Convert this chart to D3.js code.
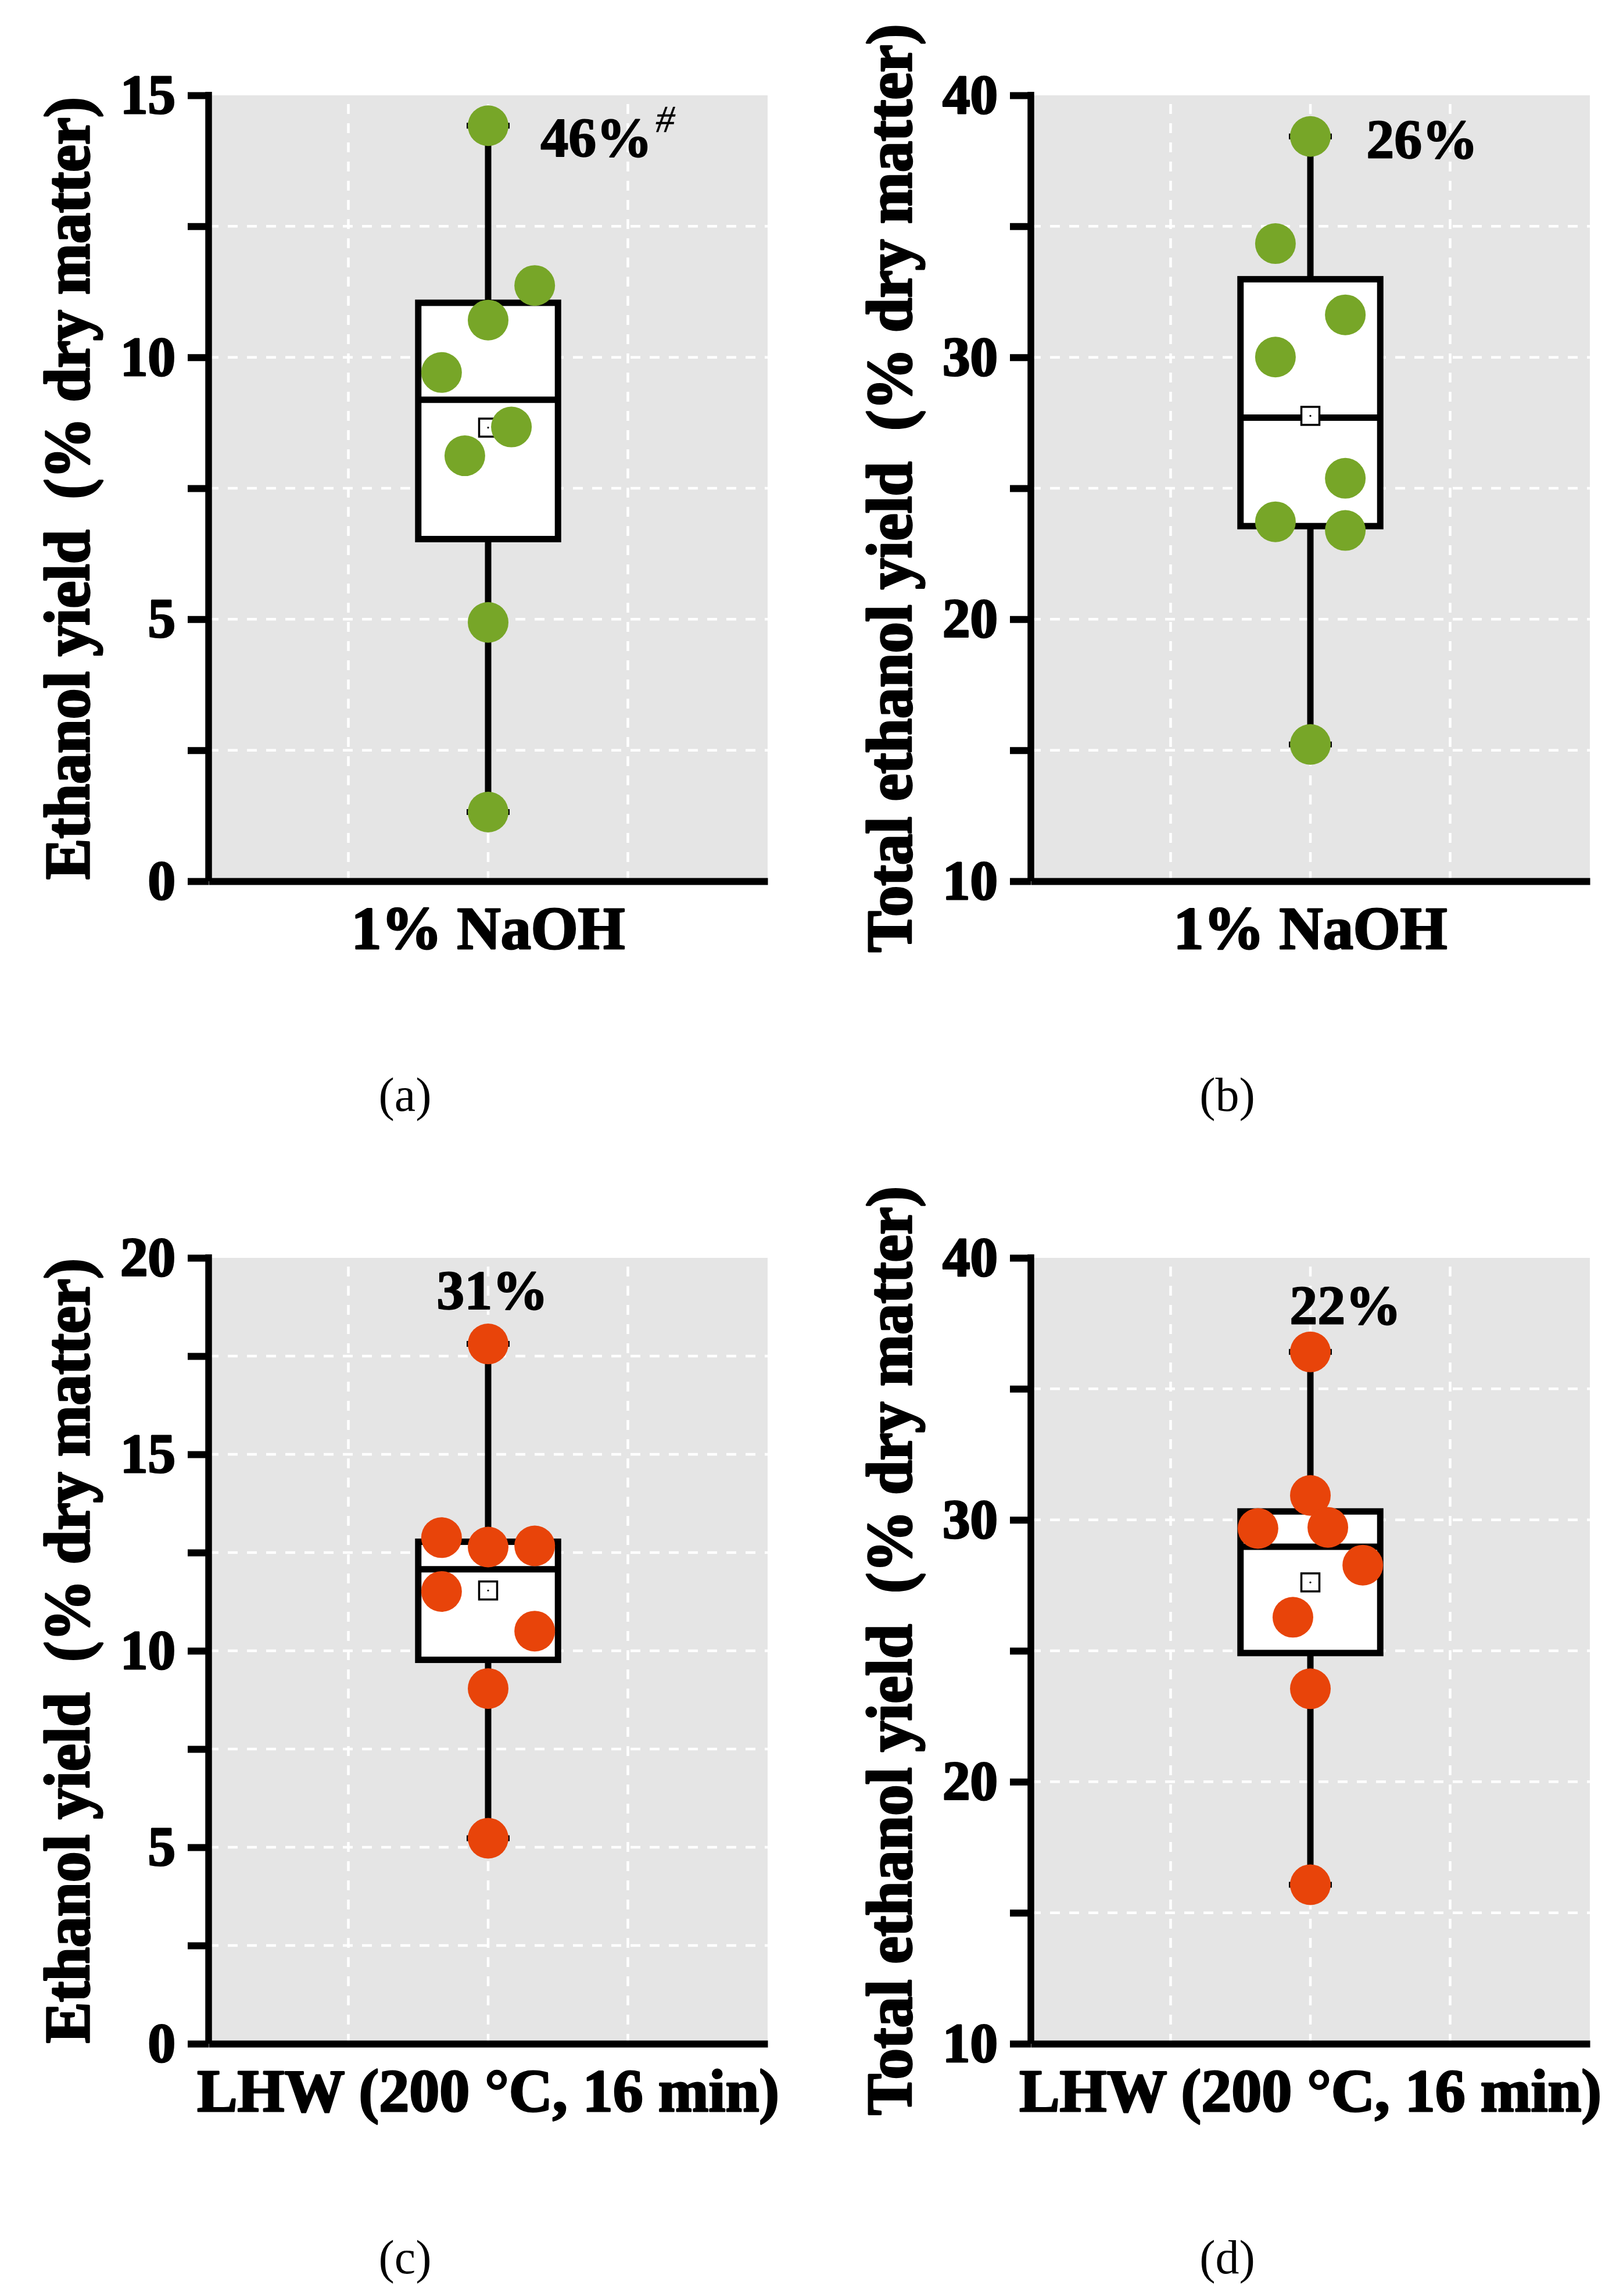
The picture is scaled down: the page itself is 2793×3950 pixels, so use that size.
<!DOCTYPE html>
<html>
<head>
<meta charset="utf-8">
<script src="https://cdn.jsdelivr.net/npm/d3@7"></script>
<style>
  body { margin: 0; background: #fff; }
  text { font-family: "Liberation Serif", "Times New Roman", serif; }
</style>
</head>
<body>
<svg id="chart" width="2793" height="3950"></svg>
<script>
// categories
const catNaoh = "1% NaOH";
const catLhw = "LHW (200 \u00B0C, 16 min)";

// series values (8 replicates each)
const naohEthanol = [14.42, 11.37, 10.71, 9.71, 8.67, 8.12, 4.94, 1.32];
const naohTotal = [38.43, 34.34, 31.62, 30.01, 25.38, 23.72, 23.39, 15.22];
const lhwEthanol = [17.81, 12.88, 12.64, 12.67, 11.51, 10.5, 9.04, 5.23];
const lhwTotal = [36.41, 30.93, 29.67, 29.71, 28.27, 26.28, 23.55, 16.07];

// horizontal jitter of each point, in category units
const naohEthanolJitter = [0, 1 / 3, 0, -1 / 3, 1 / 6, -1 / 6, 0, 0];
const naohTotalJitter = [0, -0.25, 0.25, -0.25, 0.25, -0.25, 0.25, 0];
const lhwEthanolJitter = [0, -1 / 3, 0, 1 / 3, -1 / 3, 1 / 3, 0, 0];
const lhwTotalJitter = [0, 0, -0.375, 0.125, 0.375, -0.125, 0, 0];

// tick labels
const ticksEthanolA = [0, 5, 10, 15];
const minorEthanolA = [2.5, 7.5, 12.5];
const ticksEthanolC = [0, 5, 10, 15, 20];
const minorEthanolC = [2.5, 7.5, 12.5, 17.5];
const ticksTotal = [10, 20, 30, 40];
const minorTotal = [15, 25, 35];

// annotations
const notes = ["46%", "26%", "31%", "22%"];
const noteSup = ["#", "", "", ""];
const panelTags = ["(a)", "(b)", "(c)", "(d)"];

const titleEthanol = "Ethanol yield\u00A0\u00A0(% dry matter)";
const titleTotal = "Total ethanol yield\u00A0\u00A0(% dry matter)";

const green = "#77a628";
const orange = "#e8440a";

const panels = [
  { left: 359, top: 164, values: naohEthanol, jitter: naohEthanolJitter, cat: catNaoh,
    domain: [0, 15], ticks: ticksEthanolA, minor: minorEthanolA, title: titleEthanol,
    titleLen: 1346, color: green, note: 0, noteX: 2.375, noteY: 13.84, anchor: "start" },
  { left: 1774, top: 164, values: naohTotal, jitter: naohTotalJitter, cat: catNaoh,
    domain: [10, 40], ticks: ticksTotal, minor: minorTotal, title: titleTotal,
    titleLen: 1597, color: green, note: 1, noteX: 2.4, noteY: 37.6, anchor: "start" },
  { left: 359, top: 2164, values: lhwEthanol, jitter: lhwEthanolJitter, cat: catLhw,
    domain: [0, 20], ticks: ticksEthanolC, minor: minorEthanolC, title: titleEthanol,
    titleLen: 1350, color: orange, note: 2, noteX: 2.03, noteY: 18.7, anchor: "middle" },
  { left: 1774, top: 2164, values: lhwTotal, jitter: lhwTotalJitter, cat: catLhw,
    domain: [10, 40], ticks: ticksTotal, minor: minorTotal, title: titleTotal,
    titleLen: 1598, color: orange, note: 3, noteX: 2.25, noteY: 37.47, anchor: "middle" }
];

const pw = 962, ph = 1352;

function hinges(vals) {
  const s = vals.slice().sort(d3.ascending);
  const n = s.length, h = Math.ceil(n / 2);
  return {
    min: s[0], max: s[n - 1],
    q1: d3.median(s.slice(0, h)),
    q3: d3.median(s.slice(n - h)),
    med: d3.median(s),
    mean: d3.mean(s)
  };
}

// heavy look of the original lettering
function heavy(sel, w) {
  sel.attr("stroke", "#000").attr("stroke-width", w).attr("stroke-linejoin", "round");
}

const svg = d3.select("#chart");
svg.append("rect").attr("width", 2793).attr("height", 3950).attr("fill", "#fff");

panels.forEach((p, i) => {
  const x = d3.scaleLinear().domain([0, 4]).range([p.left, p.left + pw]);
  const y = d3.scaleLinear().domain(p.domain).range([p.top + ph, p.top]);
  const st = hinges(p.values);
  const g = svg.append("g");

  g.append("rect")
    .attr("x", x(0)).attr("y", y(p.domain[1]))
    .attr("width", x(4) - x(0)).attr("height", y(p.domain[0]) - y(p.domain[1]))
    .attr("fill", "#e5e5e5");

  // grid
  const gridY = p.ticks.concat(p.minor).filter(v => v > p.domain[0] && v < p.domain[1]);
  g.selectAll(".gy").data(gridY).enter().append("line")
    .attr("x1", x(0)).attr("x2", x(4))
    .attr("y1", d => y(d)).attr("y2", d => y(d))
    .attr("stroke", "#fff").attr("stroke-width", 4.5).attr("stroke-dasharray", "17,16");
  g.selectAll(".gx").data([1, 2, 3]).enter().append("line")
    .attr("x1", d => x(d)).attr("x2", d => x(d))
    .attr("y1", y(p.domain[0])).attr("y2", y(p.domain[1]))
    .attr("stroke", "#fff").attr("stroke-width", 4.5).attr("stroke-dasharray", "17,16");

  // whiskers + caps
  const wk = [[st.max, st.q3], [st.q1, st.min]];
  g.selectAll(".wk").data(wk).enter().append("line")
    .attr("x1", x(2)).attr("x2", x(2))
    .attr("y1", d => y(d[0])).attr("y2", d => y(d[1]))
    .attr("stroke", "#000").attr("stroke-width", 11);
  g.selectAll(".cap").data([st.max, st.min]).enter().append("line")
    .attr("x1", x(2) - 37).attr("x2", x(2) + 37)
    .attr("y1", d => y(d)).attr("y2", d => y(d))
    .attr("stroke", "#000").attr("stroke-width", 10);

  // box
  g.append("rect")
    .attr("x", x(1.5)).attr("y", y(st.q3))
    .attr("width", x(2.5) - x(1.5)).attr("height", y(st.q1) - y(st.q3))
    .attr("fill", "#fff").attr("stroke", "#000").attr("stroke-width", 11);
  g.append("line")
    .attr("x1", x(1.5)).attr("x2", x(2.5))
    .attr("y1", y(st.med)).attr("y2", y(st.med))
    .attr("stroke", "#000").attr("stroke-width", 11);

  // mean marker
  g.append("rect")
    .attr("x", x(2) - 15.5).attr("y", y(st.mean) - 15.5)
    .attr("width", 31).attr("height", 31)
    .attr("fill", "#fff").attr("stroke", "#000").attr("stroke-width", 3.5);
  g.append("circle").attr("cx", x(2)).attr("cy", y(st.mean)).attr("r", 1.6).attr("fill", "#000");

  // points
  g.selectAll(".pt").data(p.values).enter().append("circle")
    .attr("cx", (d, k) => x(2 + p.jitter[k]))
    .attr("cy", d => y(d))
    .attr("r", 35)
    .attr("fill", p.color);

  // axes
  const ax = g.append("g").attr("transform", `translate(${x(0)},0)`)
    .call(d3.axisLeft(y).tickValues(p.ticks).tickSize(36).tickSizeOuter(0)
      .tickPadding(21).tickFormat(d3.format("d")));
  ax.append("g").call(d3.axisLeft(y).tickValues(p.minor).tickSize(36).tickSizeOuter(0).tickFormat(""))
    .select(".domain").remove();
  ax.selectAll("line").attr("stroke", "#000").attr("stroke-width", 12);
  ax.selectAll(".domain").attr("stroke", "#000").attr("stroke-width", 11.5)
    .attr("d", `M0,${y(p.domain[0])}V${y(p.domain[1]) - 6}`);
  const tl = ax.selectAll("text").attr("fill", "#000")
    .style("font-size", "95px").style("font-weight", "bold")
    .style("font-family", "'Liberation Serif', 'Times New Roman', serif");
  heavy(tl, 3);

  const bx = g.append("g").attr("transform", `translate(0,${y(p.domain[0])})`)
    .call(d3.axisBottom(x).tickValues([]).tickSizeOuter(0));
  bx.select(".domain").attr("stroke", "#000").attr("stroke-width", 12);

  // category label
  heavy(g.append("text")
    .attr("x", x(2)).attr("y", y(p.domain[0]) + 116)
    .attr("text-anchor", "middle")
    .style("font-size", "104px").style("font-weight", "bold")
    .text(p.cat), 3);

  // y title
  heavy(g.append("text")
    .attr("transform", `translate(${p.left - 234},${(y(p.domain[0]) + y(p.domain[1])) / 2}) rotate(-90)`)
    .attr("text-anchor", "middle")
    .attr("dy", "0.255em")
    .attr("textLength", p.titleLen)
    .attr("lengthAdjust", "spacingAndGlyphs")
    .style("font-size", "110px").style("font-weight", "bold")
    .text(p.title), 3.5);

  // annotation
  const nt = g.append("text")
    .attr("x", x(p.noteX)).attr("y", y(p.noteY))
    .attr("text-anchor", p.anchor)
    .style("font-size", "96px").style("font-weight", "bold")
    .text(notes[p.note]);
  heavy(nt, 2);
  if (noteSup[p.note]) {
    nt.append("tspan")
      .attr("dy", -42)
      .attr("dx", 6)
      .attr("stroke-width", 0.5)
      .style("font-size", "66px").style("font-weight", "normal").style("font-style", "italic")
      .text(noteSup[p.note]);
  }

  // panel tag
  g.append("text")
    .attr("x", x(2) - 143).attr("y", y(p.domain[0]) + 395)
    .attr("text-anchor", "middle")
    .style("font-size", "82px")
    .text(panelTags[i]);
});
</script>
</body>
</html>
